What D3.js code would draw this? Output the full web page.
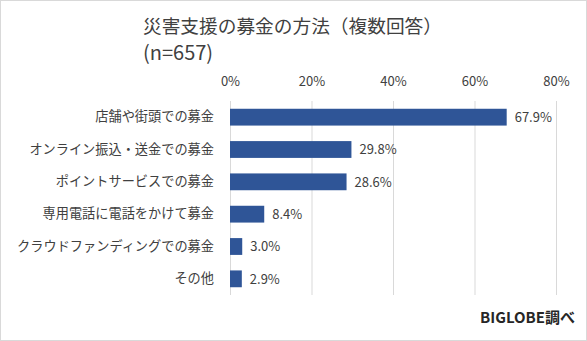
<!DOCTYPE html>
<html><head><meta charset="utf-8">
<script src="https://cdn.jsdelivr.net/npm/d3@7"></script>
<style>body{margin:0;background:#fff}svg{display:block}</style>
</head><body>
<script>
const categories = ["店舗や街頭での募金","オンライン振込・送金での募金","ポイントサービスでの募金","専用電話に電話をかけて募金","クラウドファンディングでの募金","その他"];
const values = [67.9, 29.8, 28.6, 8.4, 3.0, 2.9];
const tickValues = [0, 20, 40, 60, 80];
const titleLines = ["災害支援の募金の方法（複数回答）", "(n=657)"];
const sourceText = "BIGLOBE調べ";

const W = 587, H = 341;
const font = "'Meiryo','Noto Sans CJK JP',sans-serif";
const svg = d3.select("body").append("svg").attr("width", W).attr("height", H);
svg.append("rect").attr("x",0.5).attr("y",0.5).attr("width",W-1).attr("height",H-1)
  .attr("fill","#fff").attr("stroke","#d9d9d9");

const x = d3.scaleLinear().domain([0,80]).range([230,556]);
const y = d3.scaleBand().domain(categories).range([101,295]).paddingInner(0.48).paddingOuter(0.24);

svg.append("g").selectAll("line").data(tickValues).join("line")
  .attr("x1",d=>x(d)+0.5).attr("x2",d=>x(d)+0.5).attr("y1",101).attr("y2",295)
  .attr("stroke","#d9d9d9");

const xa = d3.axisTop(x).tickValues(tickValues).tickFormat(d=>d+"%").tickSize(0).tickPadding(0);
svg.append("g").attr("transform","translate(0,86)").call(xa)
  .call(g=>g.select(".domain").remove())
  .selectAll("text").attr("font-family",font).attr("font-size",13).attr("fill","#404040");

svg.append("g").selectAll("rect").data(values).join("rect")
  .attr("x",x(0)).attr("y",(d,i)=>y(categories[i])).attr("width",d=>x(d)-x(0))
  .attr("height",y.bandwidth()).attr("fill","#2F5597");

svg.append("g").selectAll("text").data(values).join("text")
  .attr("x",d=>x(d)+8).attr("y",(d,i)=>y(categories[i])+y.bandwidth()/2)
  .attr("dy","0.36em").attr("font-family",font).attr("font-size",13).attr("fill","#404040")
  .text(d=>d.toFixed(1)+"%");

const ya = d3.axisLeft(y).tickSize(0).tickPadding(16);
svg.append("g").attr("transform",`translate(${x(0)},0)`).call(ya)
  .call(g=>g.select(".domain").remove())
  .selectAll("text").attr("font-family",font).attr("font-size",13.2).attr("fill","#404040");

svg.append("g").selectAll("text").data(titleLines).join("text")
  .attr("x",143).attr("y",(d,i)=>i===0?33:60)
  .attr("font-family",font).attr("font-size",(d,i)=>i===0?18.7:20).attr("fill","#404040")
  .text(d=>d);

svg.append("text").attr("x",575).attr("y",323).attr("text-anchor","end")
  .attr("font-family",font).attr("font-size",15).attr("font-weight","bold").attr("fill","#262626")
  .text(sourceText);
</script>
</body></html>
